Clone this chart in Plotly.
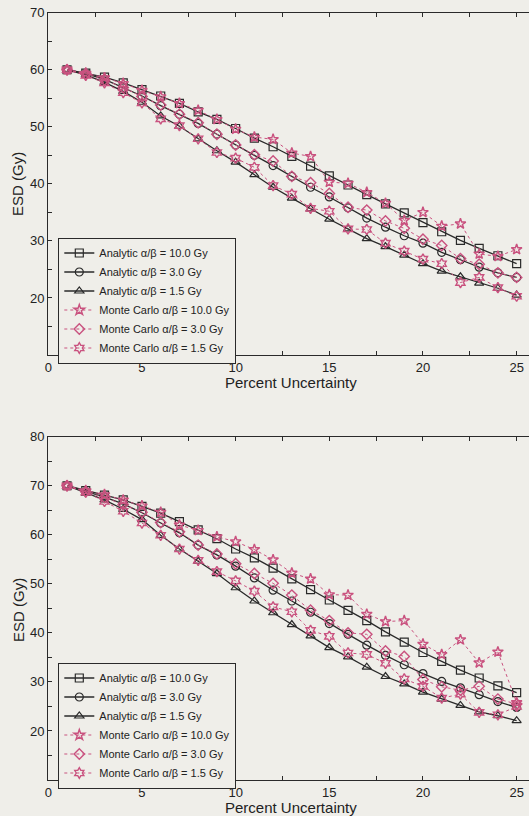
import plotly.graph_objects as go

x_vals = list(range(1, 26))

# Top panel (ESD at 0% = 60 Gy)
top_analytic_10 = [60.0, 59.4, 58.7, 57.7, 56.5, 55.4, 54.1, 52.6, 51.3, 49.7, 48.0, 46.5, 44.8, 43.1, 41.4, 39.8, 38.1, 36.5, 34.9, 33.2, 31.6, 30.1, 28.7, 27.4, 26.0]
top_analytic_3 = [60.0, 59.3, 58.3, 56.8, 55.4, 53.7, 52.2, 50.6, 48.7, 46.8, 45.0, 43.2, 41.3, 39.4, 37.7, 35.8, 34.0, 32.4, 30.9, 29.6, 28.0, 26.7, 25.4, 24.4, 23.6]
top_analytic_15 = [60.0, 59.1, 57.8, 56.2, 54.3, 51.9, 50.1, 47.9, 45.8, 43.8, 41.6, 39.4, 37.5, 35.6, 33.8, 32.1, 30.4, 29.0, 27.5, 26.0, 24.7, 23.7, 22.6, 21.7, 20.5]
top_mc_10 = [60.0, 59.4, 58.6, 57.6, 56.4, 55.3, 54.1, 52.9, 51.3, 49.6, 48.2, 47.8, 45.4, 44.8, 40.3, 40.1, 38.5, 36.6, 33.6, 35.0, 32.6, 33.0, 27.7, 27.3, 28.5]
top_mc_3 = [60.0, 59.3, 58.2, 56.9, 55.3, 53.8, 52.2, 50.7, 48.7, 46.8, 45.1, 44.0, 41.3, 40.2, 38.3, 35.9, 35.4, 33.5, 32.2, 30.3, 29.2, 26.9, 25.9, 24.4, 23.6]
top_mc_15 = [60.0, 59.0, 57.7, 56.0, 54.2, 51.4, 50.2, 47.9, 45.5, 44.5, 42.9, 39.7, 38.2, 35.7, 35.2, 32.1, 32.0, 29.6, 28.2, 26.8, 26.0, 22.7, 23.6, 21.8, 20.3]

# Bottom panel (ESD at 0% = 70 Gy)
bot_analytic_10 = [70.0, 69.0, 68.1, 67.1, 65.8, 64.4, 62.7, 61.0, 59.2, 57.1, 55.3, 53.2, 51.0, 48.8, 46.7, 44.6, 42.5, 40.2, 38.1, 36.0, 34.2, 32.4, 30.8, 29.2, 27.8]
bot_analytic_3 = [70.0, 68.8, 67.7, 66.3, 64.5, 62.4, 60.4, 57.9, 55.9, 53.6, 51.2, 48.7, 46.5, 44.2, 41.9, 39.7, 37.5, 35.4, 33.5, 31.7, 30.1, 28.8, 27.4, 26.0, 24.8]
bot_analytic_15 = [70.0, 68.5, 67.1, 65.2, 63.1, 59.9, 57.1, 54.6, 52.1, 49.2, 46.5, 44.1, 41.7, 39.4, 37.0, 35.1, 33.0, 31.1, 29.6, 27.9, 26.5, 25.2, 23.9, 23.1, 22.1]
bot_mc_10 = [70.0, 69.0, 68.2, 67.1, 65.9, 64.6, 62.0, 60.9, 59.6, 58.6, 57.0, 54.9, 52.2, 51.0, 47.8, 47.7, 43.8, 42.3, 42.5, 37.7, 35.6, 38.6, 33.9, 36.1, 25.8]
bot_mc_3 = [70.0, 68.8, 67.6, 66.2, 64.6, 62.5, 60.6, 57.9, 56.1, 54.1, 52.1, 50.1, 47.7, 44.6, 42.5, 40.0, 39.7, 36.3, 35.2, 30.5, 29.0, 28.3, 29.1, 26.5, 25.5]
bot_mc_15 = [70.0, 68.7, 66.8, 64.8, 62.4, 59.9, 57.1, 54.8, 52.5, 50.6, 48.5, 45.3, 44.3, 40.5, 39.3, 35.9, 35.6, 33.8, 30.6, 29.1, 26.7, 27.5, 23.8, 23.3, 25.0]

series_names = [
    "Analytic \u03b1/\u03b2 = 10.0 Gy",
    "Analytic \u03b1/\u03b2 = 3.0 Gy",
    "Analytic \u03b1/\u03b2 = 1.5 Gy",
    "Monte Carlo \u03b1/\u03b2 = 10.0 Gy",
    "Monte Carlo \u03b1/\u03b2 = 3.0 Gy",
    "Monte Carlo \u03b1/\u03b2 = 1.5 Gy",
]

x_tickvals = [0, 2.5, 5, 7.5, 10, 12.5, 15, 17.5, 20, 22.5, 25]
x_ticktext = ["0", "", "5", "", "10", "", "15", "", "20", "", "25"]
top_y_tickvals = [10, 15, 20, 25, 30, 35, 40, 45, 50, 55, 60, 65, 70]
top_y_ticktext = ["", "", "20", "", "30", "", "40", "", "50", "", "60", "", "70"]
bot_y_tickvals = [10, 15, 20, 25, 30, 35, 40, 45, 50, 55, 60, 65, 70, 75, 80]
bot_y_ticktext = ["", "", "20", "", "30", "", "40", "", "50", "", "60", "", "70", "", "80"]

BG = "#efeee9"
BLACK = "#2a2a2a"
PINK = "#c9527f"
FONT = "Liberation Sans, Arial, sans-serif"

fig = go.Figure()

def add_panel(fig, xa, ya, legend, ana, mc):
    syms_a = ["square-open", "circle-open", "triangle-up-open"]
    syms_m = ["star-open", "diamond-open", "hexagram-open"]
    for i in range(3):
        fig.add_trace(go.Scatter(
            x=x_vals, y=ana[i], mode="lines+markers", name=series_names[i],
            xaxis=xa, yaxis=ya, legend=legend,
            line=dict(color=BLACK, width=1.3),
            marker=dict(symbol=syms_a[i], size=8, color=BLACK, line=dict(width=1.2, color=BLACK)),
        ))
    for i in range(3):
        fig.add_trace(go.Scatter(
            x=x_vals, y=mc[i], mode="lines+markers", name=series_names[3 + i],
            xaxis=xa, yaxis=ya, legend=legend,
            line=dict(color=PINK, width=1, dash="dot"),
            marker=dict(symbol=syms_m[i], size=8, color=PINK, line=dict(width=1.4, color=PINK)),
        ))

add_panel(fig, "x", "y", "legend",
          [top_analytic_10, top_analytic_3, top_analytic_15],
          [top_mc_10, top_mc_3, top_mc_15])
add_panel(fig, "x2", "y2", "legend2",
          [bot_analytic_10, bot_analytic_3, bot_analytic_15],
          [bot_mc_10, bot_mc_3, bot_mc_15])

x_left = 48.3 / 529
xr = [0, 25.66]

axis_common = dict(
    showline=True, linecolor=BLACK, linewidth=1.3, ticks="inside", ticklen=4,
    tickcolor=BLACK, showgrid=False, zeroline=False, automargin=False,
    tickfont=dict(family=FONT, size=13, color="#222"),
)

legend_common = dict(
    xanchor="left", yanchor="top", bgcolor=BG, bordercolor=BLACK, borderwidth=1,
    font=dict(family=FONT, size=11, color="#222"), tracegroupgap=0, itemwidth=30,
)

fig.update_layout(
    template="none",
    width=529, height=816,
    margin=dict(l=0, r=0, t=0, b=0),
    paper_bgcolor=BG, plot_bgcolor=BG,
    font=dict(family=FONT, color="#222"),
    xaxis=dict(domain=[x_left, 1.0], range=xr, anchor="y", tickvals=x_tickvals,
               ticktext=x_ticktext, mirror="ticks", **axis_common),
    yaxis=dict(domain=[1 - 355 / 816, 1 - 12.7 / 816], range=[10, 70], anchor="x",
               tickvals=top_y_tickvals, ticktext=top_y_ticktext, mirror=False, **axis_common),
    xaxis2=dict(domain=[x_left, 1.0], range=xr, anchor="y2", tickvals=x_tickvals,
                ticktext=x_ticktext, mirror="ticks", **axis_common),
    yaxis2=dict(domain=[1 - 780 / 816, 1 - 436.7 / 816], range=[10, 80], anchor="x2",
                tickvals=bot_y_tickvals, ticktext=bot_y_ticktext, mirror=False, **axis_common),
    legend=dict(x=58.3 / 529, y=1 - 237.5 / 816, **legend_common),
    legend2=dict(x=58.3 / 529, y=1 - 662.5 / 816, **legend_common),
    showlegend=True,
)

for yy in [382, 807]:
    fig.add_annotation(text="Percent Uncertainty", x=291 / 529, y=1 - yy / 816, xref="paper", yref="paper",
                       showarrow=False, font=dict(family=FONT, size=15, color="#222"),
                       xanchor="center", yanchor="middle")
for yy in [184, 610]:
    fig.add_annotation(text="ESD (Gy)", x=18 / 529, y=1 - yy / 816, xref="paper", yref="paper",
                       showarrow=False, textangle=-90, font=dict(family=FONT, size=15, color="#222"),
                       xanchor="center", yanchor="middle")

fig.write_html(
    "out.html",
    config={"displayModeBar": False},
    post_script="document.body.style.margin='0';document.body.style.background='" + BG + "';",
)
